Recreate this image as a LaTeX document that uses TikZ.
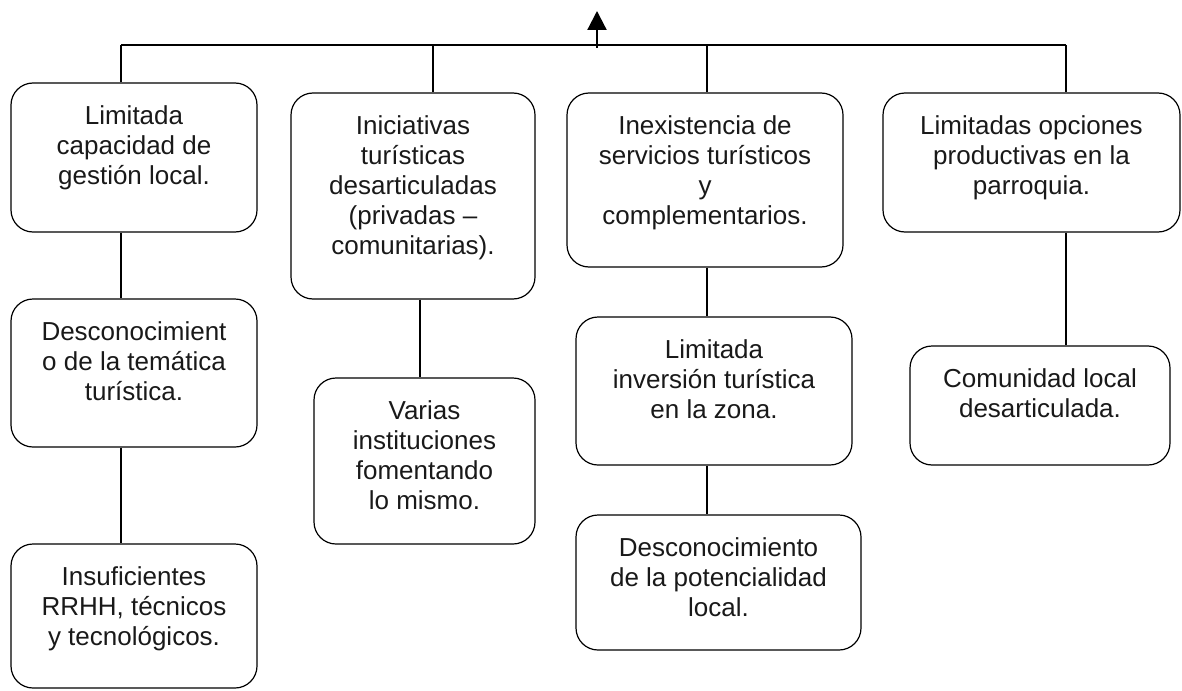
\documentclass[tikz,border=0pt]{standalone}
\usepackage{fontspec}
\setmainfont{Liberation Sans}
\usetikzlibrary{arrows.meta}
\tikzset{
  boxshape/.style={draw, line width=1.2pt, rounded corners=22pt, inner sep=0pt},
  boxtext/.style={anchor=north, align=center, inner sep=0pt, font=\fontsize{26}{30}\selectfont, text=black!90},
  link/.style={draw, line width=1.2pt},
  uparrow/.style={draw, line width=2.2pt, -{Triangle[width=19pt,length=19pt]}}
}
\newcommand\mybox[6]{%
  \node[boxshape, minimum width={#4-#2}, minimum height={#5-#3}] (#1) at ({(#2+#4)/2},{(#3+#5)/2}) {};
  \node[boxtext] (#1t) at ([yshift=-21pt]#1.north) {\strut #6};
}
\begin{document}
\begin{tikzpicture}[x=1pt,y=-1pt]
\useasboundingbox (0,0) rectangle (1182,690);
% boxes
\mybox{A}{11}{83}{257}{232}{Limitada\\capacidad de\\gestión local.}
\mybox{B}{11}{299}{257}{447}{Desconocimient\\o de la temática\\turística.}
\mybox{C}{11}{544}{257}{688}{Insuficientes\\RRHH, técnicos\\y tecnológicos.}
\mybox{D}{291}{93}{535}{299}{Iniciativas\\turísticas\\desarticuladas\\(privadas –\\comunitarias).}
\mybox{E}{314}{378}{535}{544}{Varias\\instituciones\\fomentando\\lo mismo.}
\mybox{F}{567}{93}{843}{267}{Inexistencia de\\servicios turísticos\\y\\complementarios.}
\mybox{G}{576}{317}{852}{465}{Limitada\\inversión turística\\en la zona.}
\mybox{H}{576}{515}{861}{650}{Desconocimiento\\de la potencialidad\\local.}
\mybox{I}{883}{93}{1180}{232}{Limitadas opciones\\productivas en la\\parroquia.}
\mybox{J}{910}{346}{1170}{465}{Comunidad local\\desarticulada.}
% bus coordinates
\coordinate (b1) at (121,45);
\coordinate (b2) at (433,45);
\coordinate (b3) at (707,45);
\coordinate (b4) at (1066,45);
\coordinate (d2) at (420,300);
\coordinate (ab) at (597,48);
\coordinate (at) at (597,11);
% connectors
\draw[link] (b1) -- (b4);
\draw[link] (b1) -- (b1 |- A.north);
\draw[link] (b1 |- A.south) -- (b1 |- B.north);
\draw[link] (b1 |- B.south) -- (b1 |- C.north);
\draw[link] (b2) -- (b2 |- D.north);
\draw[link] (d2 |- D.south) -- (d2 |- E.north);
\draw[link] (b3) -- (b3 |- F.north);
\draw[link] (b3 |- F.south) -- (b3 |- G.north);
\draw[link] (b3 |- G.south) -- (b3 |- H.north);
\draw[link] (b4) -- (b4 |- I.north);
\draw[link] (b4 |- I.south) -- (b4 |- J.north);
\draw[uparrow] (ab) -- (at);
\end{tikzpicture}
\end{document}
